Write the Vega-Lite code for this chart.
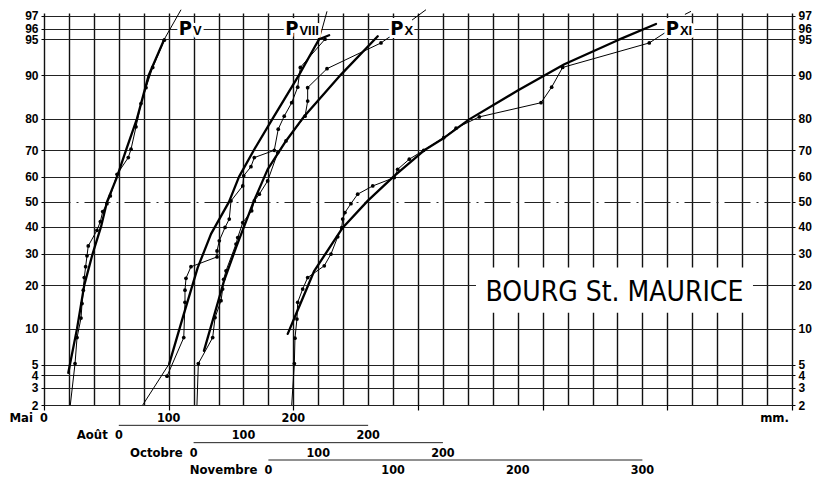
{
  "$schema": "https://vega.github.io/schema/vega-lite/v6.json",
  "background": "white",
  "padding": {"left": 9, "right": 5, "top": 7, "bottom": 1},
  "bounds": "flush",
  "spacing": 3,
  "config": {
    "view": {"stroke": null},
    "font": "DejaVu Sans Condensed, sans-serif",
    "axis": {"domain": false, "labelColor": "black", "labelFont": "Liberation Sans, Arial, sans-serif", "labelFontWeight": "bold", "labelFontSize": 12}
  },
  "datasets": {
    "scales": [
      {"month": "Mai", "offset": 0, "max": 200},
      {"month": "Août", "offset": 60, "max": 200},
      {"month": "Octobre", "offset": 120, "max": 200},
      {"month": "Novembre", "offset": 180, "max": 300}
    ],
    "scaleTicks": [
      {"month": "Mai", "value": 0}, {"month": "Mai", "value": 100}, {"month": "Mai", "value": 200},
      {"month": "Août", "value": 0}, {"month": "Août", "value": 100}, {"month": "Août", "value": 200},
      {"month": "Octobre", "value": 0}, {"month": "Octobre", "value": 100}, {"month": "Octobre", "value": 200},
      {"month": "Novembre", "value": 0}, {"month": "Novembre", "value": 100}, {"month": "Novembre", "value": 200}, {"month": "Novembre", "value": 300}
    ],
    "units": [{"month": "Mai", "value": 600, "text": "mm."}],
    "station": [{"text": "BOURG St. MAURICE", "month": "Mai", "mm": 457.6, "pct": 18.6}],
    "labels": [
      {"month": "Mai", "mm": 118.7, "pct": 96, "num": "V"},
      {"month": "Août", "mm": 144.1, "pct": 96, "num": "VIII"},
      {"month": "Octobre", "mm": 168.4, "pct": 96, "num": "X"},
      {"month": "Novembre", "mm": 329.3, "pct": 96, "num": "XI"}
    ],
    "points": [
      {"kind": "fit", "line": "V", "month": "Mai", "mm": 19.5, "pct": 4.2},
      {"kind": "fit", "line": "V", "month": "Mai", "mm": 26.5, "pct": 10},
      {"kind": "fit", "line": "V", "month": "Mai", "mm": 32.3, "pct": 20},
      {"kind": "fit", "line": "V", "month": "Mai", "mm": 39, "pct": 30},
      {"kind": "fit", "line": "V", "month": "Mai", "mm": 45.7, "pct": 40},
      {"kind": "fit", "line": "V", "month": "Mai", "mm": 50.5, "pct": 50},
      {"kind": "fit", "line": "V", "month": "Mai", "mm": 58.6, "pct": 60},
      {"kind": "fit", "line": "V", "month": "Mai", "mm": 65.8, "pct": 70},
      {"kind": "fit", "line": "V", "month": "Mai", "mm": 74.6, "pct": 80},
      {"kind": "fit", "line": "V", "month": "Mai", "mm": 84, "pct": 90},
      {"kind": "fit", "line": "V", "month": "Mai", "mm": 96.5, "pct": 95},

      {"kind": "fit", "line": "VIII", "month": "Août", "mm": 40.5, "pct": 5.1},
      {"kind": "fit", "line": "VIII", "month": "Août", "mm": 51.3, "pct": 12.1},
      {"kind": "fit", "line": "VIII", "month": "Août", "mm": 63.3, "pct": 25.3},
      {"kind": "fit", "line": "VIII", "month": "Août", "mm": 74, "pct": 37.3},
      {"kind": "fit", "line": "VIII", "month": "Août", "mm": 88.4, "pct": 50},
      {"kind": "fit", "line": "VIII", "month": "Août", "mm": 96.4, "pct": 60},
      {"kind": "fit", "line": "VIII", "month": "Août", "mm": 108.4, "pct": 70},
      {"kind": "fit", "line": "VIII", "month": "Août", "mm": 123.4, "pct": 80},
      {"kind": "fit", "line": "VIII", "month": "Août", "mm": 144.5, "pct": 90},
      {"kind": "fit", "line": "VIII", "month": "Août", "mm": 160.6, "pct": 95},
      {"kind": "fit", "line": "VIII", "month": "Août", "mm": 168.7, "pct": 95.4},

      {"kind": "fit", "line": "X", "month": "Octobre", "mm": 8.3, "pct": 6.6},
      {"kind": "fit", "line": "X", "month": "Octobre", "mm": 24.4, "pct": 21.2},
      {"kind": "fit", "line": "X", "month": "Octobre", "mm": 34, "pct": 32.2},
      {"kind": "fit", "line": "X", "month": "Octobre", "mm": 48.4, "pct": 50.4},
      {"kind": "fit", "line": "X", "month": "Octobre", "mm": 59.4, "pct": 62.9},
      {"kind": "fit", "line": "X", "month": "Octobre", "mm": 74.1, "pct": 73.1},
      {"kind": "fit", "line": "X", "month": "Octobre", "mm": 88.8, "pct": 80.7},
      {"kind": "fit", "line": "X", "month": "Octobre", "mm": 118.2, "pct": 90.1},
      {"kind": "fit", "line": "X", "month": "Octobre", "mm": 147.7, "pct": 95.3},

      {"kind": "fit", "line": "XI", "month": "Novembre", "mm": 15.5, "pct": 9.1},
      {"kind": "fit", "line": "XI", "month": "Novembre", "mm": 22.1, "pct": 12.8},
      {"kind": "fit", "line": "XI", "month": "Novembre", "mm": 36.8, "pct": 24.3},
      {"kind": "fit", "line": "XI", "month": "Novembre", "mm": 59.6, "pct": 39.7},
      {"kind": "fit", "line": "XI", "month": "Novembre", "mm": 79.6, "pct": 50.4},
      {"kind": "fit", "line": "XI", "month": "Novembre", "mm": 101, "pct": 60.4},
      {"kind": "fit", "line": "XI", "month": "Novembre", "mm": 125, "pct": 69.9},
      {"kind": "fit", "line": "XI", "month": "Novembre", "mm": 141.1, "pct": 74.2},
      {"kind": "fit", "line": "XI", "month": "Novembre", "mm": 161.1, "pct": 79.8},
      {"kind": "fit", "line": "XI", "month": "Novembre", "mm": 200, "pct": 87},
      {"kind": "fit", "line": "XI", "month": "Novembre", "mm": 237.4, "pct": 91.8},
      {"kind": "fit", "line": "XI", "month": "Novembre", "mm": 280.2, "pct": 94.9},
      {"kind": "fit", "line": "XI", "month": "Novembre", "mm": 310.9, "pct": 96.4},

      {"kind": "obs", "line": "V", "month": "Mai", "mm": 21.1, "pct": 2},
      {"kind": "obs", "line": "V", "month": "Mai", "mm": 24.9, "pct": 5.1},
      {"kind": "obs", "line": "V", "month": "Mai", "mm": 26.5, "pct": 8.5},
      {"kind": "obs", "line": "V", "month": "Mai", "mm": 29.7, "pct": 12},
      {"kind": "obs", "line": "V", "month": "Mai", "mm": 30.5, "pct": 15.2},
      {"kind": "obs", "line": "V", "month": "Mai", "mm": 31.5, "pct": 18.6},
      {"kind": "obs", "line": "V", "month": "Mai", "mm": 32.3, "pct": 22.2},
      {"kind": "obs", "line": "V", "month": "Mai", "mm": 33.4, "pct": 25.6},
      {"kind": "obs", "line": "V", "month": "Mai", "mm": 34.5, "pct": 29.3},
      {"kind": "obs", "line": "V", "month": "Mai", "mm": 35.5, "pct": 32.8},
      {"kind": "obs", "line": "V", "month": "Mai", "mm": 42.5, "pct": 38.7},
      {"kind": "obs", "line": "V", "month": "Mai", "mm": 45.2, "pct": 42.1},
      {"kind": "obs", "line": "V", "month": "Mai", "mm": 47.1, "pct": 46.1},
      {"kind": "obs", "line": "V", "month": "Mai", "mm": 50.5, "pct": 49.3},
      {"kind": "obs", "line": "V", "month": "Mai", "mm": 53.2, "pct": 52.4},
      {"kind": "obs", "line": "V", "month": "Mai", "mm": 58.6, "pct": 61},
      {"kind": "obs", "line": "V", "month": "Mai", "mm": 67.6, "pct": 67.3},
      {"kind": "obs", "line": "V", "month": "Mai", "mm": 69.8, "pct": 70.3},
      {"kind": "obs", "line": "V", "month": "Mai", "mm": 73.8, "pct": 77.6},
      {"kind": "obs", "line": "V", "month": "Mai", "mm": 77.8, "pct": 84},
      {"kind": "obs", "line": "V", "month": "Mai", "mm": 81.8, "pct": 87.6},
      {"kind": "obs", "line": "V", "month": "Mai", "mm": 87.2, "pct": 91.3},
      {"kind": "obs", "line": "V", "month": "Mai", "mm": 96.5, "pct": 94.9},

      {"kind": "obs", "line": "VIII", "month": "Août", "mm": 38.7, "pct": 3.9},
      {"kind": "obs", "line": "VIII", "month": "Août", "mm": 52.1, "pct": 8.5},
      {"kind": "obs", "line": "VIII", "month": "Août", "mm": 53.1, "pct": 15.5},
      {"kind": "obs", "line": "VIII", "month": "Août", "mm": 53.1, "pct": 18.6},
      {"kind": "obs", "line": "VIII", "month": "Août", "mm": 53.9, "pct": 22},
      {"kind": "obs", "line": "VIII", "month": "Août", "mm": 57.9, "pct": 25.6},
      {"kind": "obs", "line": "VIII", "month": "Août", "mm": 78.8, "pct": 28.9},
      {"kind": "obs", "line": "VIII", "month": "Août", "mm": 78.8, "pct": 31},
      {"kind": "obs", "line": "VIII", "month": "Août", "mm": 80.6, "pct": 34.7},
      {"kind": "obs", "line": "VIII", "month": "Août", "mm": 85.2, "pct": 39.8},
      {"kind": "obs", "line": "VIII", "month": "Août", "mm": 88.6, "pct": 43.1},
      {"kind": "obs", "line": "VIII", "month": "Août", "mm": 90, "pct": 50.4},
      {"kind": "obs", "line": "VIII", "month": "Août", "mm": 99.4, "pct": 56.4},
      {"kind": "obs", "line": "VIII", "month": "Août", "mm": 100.2, "pct": 60.4},
      {"kind": "obs", "line": "VIII", "month": "Août", "mm": 106, "pct": 63.9},
      {"kind": "obs", "line": "VIII", "month": "Août", "mm": 108.7, "pct": 67.3},
      {"kind": "obs", "line": "VIII", "month": "Août", "mm": 124.7, "pct": 69.9},
      {"kind": "obs", "line": "VIII", "month": "Août", "mm": 127.9, "pct": 76.9},
      {"kind": "obs", "line": "VIII", "month": "Août", "mm": 132.7, "pct": 80.7},
      {"kind": "obs", "line": "VIII", "month": "Août", "mm": 138.7, "pct": 84.2},
      {"kind": "obs", "line": "VIII", "month": "Août", "mm": 143.5, "pct": 87.7},
      {"kind": "obs", "line": "VIII", "month": "Août", "mm": 145.6, "pct": 91.3},
      {"kind": "obs", "line": "VIII", "month": "Août", "mm": 165.4, "pct": 95},

      {"kind": "obs", "line": "X", "month": "Octobre", "mm": 2.7, "pct": 2},
      {"kind": "obs", "line": "X", "month": "Octobre", "mm": 3.8, "pct": 5.1},
      {"kind": "obs", "line": "X", "month": "Octobre", "mm": 15.3, "pct": 8.5},
      {"kind": "obs", "line": "X", "month": "Octobre", "mm": 17.2, "pct": 12.1},
      {"kind": "obs", "line": "X", "month": "Octobre", "mm": 22, "pct": 15.9},
      {"kind": "obs", "line": "X", "month": "Octobre", "mm": 23.3, "pct": 18.9},
      {"kind": "obs", "line": "X", "month": "Octobre", "mm": 24.1, "pct": 21.7},
      {"kind": "obs", "line": "X", "month": "Octobre", "mm": 26, "pct": 24.3},
      {"kind": "obs", "line": "X", "month": "Octobre", "mm": 34, "pct": 33.5},
      {"kind": "obs", "line": "X", "month": "Octobre", "mm": 35.4, "pct": 35.9},
      {"kind": "obs", "line": "X", "month": "Octobre", "mm": 39.4, "pct": 41.7},
      {"kind": "obs", "line": "X", "month": "Octobre", "mm": 46.6, "pct": 46.4},
      {"kind": "obs", "line": "X", "month": "Octobre", "mm": 48.7, "pct": 50.4},
      {"kind": "obs", "line": "X", "month": "Octobre", "mm": 52.7, "pct": 53.1},
      {"kind": "obs", "line": "X", "month": "Octobre", "mm": 59.4, "pct": 58.4},
      {"kind": "obs", "line": "X", "month": "Octobre", "mm": 67.5, "pct": 69.1},
      {"kind": "obs", "line": "X", "month": "Octobre", "mm": 74.1, "pct": 73.1},
      {"kind": "obs", "line": "X", "month": "Octobre", "mm": 89.4, "pct": 80.7},
      {"kind": "obs", "line": "X", "month": "Octobre", "mm": 91.5, "pct": 84.6},
      {"kind": "obs", "line": "X", "month": "Octobre", "mm": 91.5, "pct": 87.6},
      {"kind": "obs", "line": "X", "month": "Octobre", "mm": 107, "pct": 91.1},
      {"kind": "obs", "line": "X", "month": "Octobre", "mm": 150.3, "pct": 94.6},

      {"kind": "obs", "line": "XI", "month": "Novembre", "mm": 18.7, "pct": 2},
      {"kind": "obs", "line": "XI", "month": "Novembre", "mm": 20.8, "pct": 5.1},
      {"kind": "obs", "line": "XI", "month": "Novembre", "mm": 21.3, "pct": 8.4},
      {"kind": "obs", "line": "XI", "month": "Novembre", "mm": 22.9, "pct": 11.8},
      {"kind": "obs", "line": "XI", "month": "Novembre", "mm": 23.5, "pct": 15.5},
      {"kind": "obs", "line": "XI", "month": "Novembre", "mm": 27.5, "pct": 18.9},
      {"kind": "obs", "line": "XI", "month": "Novembre", "mm": 31.5, "pct": 22.2},
      {"kind": "obs", "line": "XI", "month": "Novembre", "mm": 44.8, "pct": 25.9},
      {"kind": "obs", "line": "XI", "month": "Novembre", "mm": 50.2, "pct": 29.9},
      {"kind": "obs", "line": "XI", "month": "Novembre", "mm": 55.6, "pct": 36.2},
      {"kind": "obs", "line": "XI", "month": "Novembre", "mm": 58.8, "pct": 39.7},
      {"kind": "obs", "line": "XI", "month": "Novembre", "mm": 59.6, "pct": 43.1},
      {"kind": "obs", "line": "XI", "month": "Novembre", "mm": 61.4, "pct": 45.7},
      {"kind": "obs", "line": "XI", "month": "Novembre", "mm": 66.2, "pct": 49.3},
      {"kind": "obs", "line": "XI", "month": "Novembre", "mm": 71.6, "pct": 53.1},
      {"kind": "obs", "line": "XI", "month": "Novembre", "mm": 83.7, "pct": 56.4},
      {"kind": "obs", "line": "XI", "month": "Novembre", "mm": 101, "pct": 59.7},
      {"kind": "obs", "line": "XI", "month": "Novembre", "mm": 103.7, "pct": 62.9},
      {"kind": "obs", "line": "XI", "month": "Novembre", "mm": 113, "pct": 66.7},
      {"kind": "obs", "line": "XI", "month": "Novembre", "mm": 124.6, "pct": 69.9},
      {"kind": "obs", "line": "XI", "month": "Novembre", "mm": 140.6, "pct": 74.2},
      {"kind": "obs", "line": "XI", "month": "Novembre", "mm": 150.5, "pct": 77.2},
      {"kind": "obs", "line": "XI", "month": "Novembre", "mm": 169.2, "pct": 80.5},
      {"kind": "obs", "line": "XI", "month": "Novembre", "mm": 218.7, "pct": 84.2},
      {"kind": "obs", "line": "XI", "month": "Novembre", "mm": 227.2, "pct": 87.7},
      {"kind": "obs", "line": "XI", "month": "Novembre", "mm": 236, "pct": 91.3},
      {"kind": "obs", "line": "XI", "month": "Novembre", "mm": 305.5, "pct": 94.6},

      {"kind": "ext", "line": "V-top", "month": "Mai", "mm": 96.5, "pct": 95},
      {"kind": "ext", "line": "V-top", "month": "Mai", "mm": 109.9, "pct": 97.4},
      {"kind": "ext", "line": "VIII-low", "month": "Août", "mm": 19.2, "pct": 2},
      {"kind": "ext", "line": "VIII-low", "month": "Août", "mm": 40.5, "pct": 5.1},
      {"kind": "ext", "line": "VIII-top", "month": "Août", "mm": 159.8, "pct": 94.5},
      {"kind": "ext", "line": "VIII-top", "month": "Août", "mm": 167, "pct": 97.3},
      {"kind": "ext", "line": "X-top", "month": "Octobre", "mm": 175.2, "pct": 96.7},
      {"kind": "ext", "line": "X-top", "month": "Octobre", "mm": 186.4, "pct": 97.4},
      {"kind": "ext", "line": "X-lead", "month": "Octobre", "mm": 150.3, "pct": 94.6},
      {"kind": "ext", "line": "X-lead", "month": "Octobre", "mm": 159.1, "pct": 95.4},
      {"kind": "ext", "line": "XI-top", "month": "Novembre", "mm": 334.1, "pct": 97.1},
      {"kind": "ext", "line": "XI-top", "month": "Novembre", "mm": 339, "pct": 97.3},
      {"kind": "ext", "line": "XI-lead", "month": "Novembre", "mm": 305.5, "pct": 94.6},
      {"kind": "ext", "line": "XI-lead", "month": "Novembre", "mm": 318.9, "pct": 95.7}
    ]
  },
  "vconcat": [
    {
      "width": 748,
      "height": 392,
      "resolve": {"axis": {"y": "independent"}},
      "encoding": {
        "x": {"field": "pos", "type": "quantitative", "scale": {"domain": [0, 600], "nice": false, "zero": false},
          "axis": {"values": [0,20,40,60,80,100,120,140,160,180,200,220,240,260,280,300,320,340,360,380,400,420,440,460,480,500,520,540,560,580,600],
            "grid": true, "gridColor": "#111", "gridWidth": 1.4, "labels": false, "title": null,
            "ticks": true, "tickSize": 5, "tickColor": "black", "tickWidth": 1.2,
            "tickOpacity": {"condition": {"test": "datum.value % 100 === 0", "value": 1}, "value": 0}}},
        "y": {"field": "z", "type": "quantitative", "scale": {"domain": [-2.0537, 1.91], "nice": false, "zero": false}, "axis": null}
      },
      "layer": [
        {
          "data": {"name": "points"},
          "transform": [
            {"filter": "datum.kind === 'fit'"},
            {"lookup": "month", "from": {"data": {"name": "scales"}, "key": "month", "fields": ["offset"]}},
            {"calculate": "datum.mm + datum.offset", "as": "pos"},
            {"calculate": "quantileNormal(datum.pct / 100)", "as": "z"}
          ],
          "mark": {"type": "line", "color": "black", "strokeWidth": 2.3, "strokeCap": "round", "strokeJoin": "round"},
          "encoding": {
            "y": {"field": "z", "type": "quantitative", "scale": {"domain": [-2.0537, 1.91], "nice": false, "zero": false},
              "axis": {"orient": "left", "values": [-2.0537,-1.8808,-1.7507,-1.6449,-1.2816,-0.8416,-0.5244,-0.2533,0,0.2533,0.5244,0.8416,1.2816,1.6449,1.7507,1.8808],
                "grid": true, "gridColor": "#222", "gridWidth": 1,
                "gridDash": {"condition": {"test": "abs(datum.value) < 0.001", "value": [26, 6, 2, 6]}, "value": []},
                "tickSize": 3, "tickColor": "black", "labelPadding": 3,
                "labelExpr": "format(round(cumulativeNormal(datum.value) * 100), 'd')",
                "labelOverlap": false, "labelBound": false, "labelFlush": false, "title": null}},
            "detail": {"field": "line"},
            "order": {"field": "pct", "type": "quantitative"}
          }
        },
        {
          "data": {"name": "points"},
          "transform": [
            {"filter": "datum.kind === 'obs'"},
            {"lookup": "month", "from": {"data": {"name": "scales"}, "key": "month", "fields": ["offset"]}},
            {"calculate": "datum.mm + datum.offset", "as": "pos"},
            {"calculate": "quantileNormal(datum.pct / 100)", "as": "z"}
          ],
          "mark": {"type": "line", "color": "black", "strokeWidth": 1},
          "encoding": {
            "y": {"field": "z", "type": "quantitative", "scale": {"domain": [-2.0537, 1.91], "nice": false, "zero": false},
              "axis": {"orient": "right", "values": [-2.0537,-1.8808,-1.7507,-1.6449,-1.2816,-0.8416,-0.5244,-0.2533,0,0.2533,0.5244,0.8416,1.2816,1.6449,1.7507,1.8808],
                "grid": false, "tickSize": 3, "tickColor": "black", "labelPadding": 3,
                "labelExpr": "format(round(cumulativeNormal(datum.value) * 100), 'd')",
                "labelOverlap": false, "labelBound": false, "labelFlush": false, "title": null}},
            "detail": {"field": "line"},
            "order": {"field": "pct", "type": "quantitative"}
          }
        },
        {
          "data": {"name": "points"},
          "transform": [
            {"filter": "datum.kind === 'obs' && datum.pct > 2.5"},
            {"lookup": "month", "from": {"data": {"name": "scales"}, "key": "month", "fields": ["offset"]}},
            {"calculate": "datum.mm + datum.offset", "as": "pos"},
            {"calculate": "quantileNormal(datum.pct / 100)", "as": "z"}
          ],
          "mark": {"type": "point", "filled": true, "color": "black", "size": 14, "opacity": 1}
        },
        {
          "data": {"name": "points"},
          "transform": [
            {"filter": "datum.kind === 'ext'"},
            {"lookup": "month", "from": {"data": {"name": "scales"}, "key": "month", "fields": ["offset"]}},
            {"calculate": "datum.mm + datum.offset", "as": "pos"},
            {"calculate": "quantileNormal(datum.pct / 100)", "as": "z"}
          ],
          "mark": {"type": "line", "color": "black", "strokeWidth": 1},
          "encoding": {
            "detail": {"field": "line"},
            "order": {"field": "pct", "type": "quantitative"}
          }
        },
        {
          "data": {"name": "station"},
          "transform": [
            {"lookup": "month", "from": {"data": {"name": "scales"}, "key": "month", "fields": ["offset"]}},
            {"calculate": "datum.mm + datum.offset", "as": "pos"},
            {"calculate": "quantileNormal(datum.pct / 100)", "as": "z"}
          ],
          "mark": {"type": "point", "shape": "M-1,-0.163H1V0.163H-1Z", "size": 76729, "filled": true, "fill": "white", "strokeWidth": 0, "opacity": 1}
        },
        {
          "data": {"name": "station"},
          "transform": [
            {"lookup": "month", "from": {"data": {"name": "scales"}, "key": "month", "fields": ["offset"]}},
            {"calculate": "datum.mm + datum.offset", "as": "pos"},
            {"calculate": "quantileNormal(datum.pct / 100)", "as": "z"}
          ],
          "mark": {"type": "text", "font": "DejaVu Sans Condensed, sans-serif", "fontSize": 28, "color": "black", "align": "center", "baseline": "alphabetic", "dy": 10.5},
          "encoding": {
            "text": {"field": "text"}
          }
        },
        {
          "data": {"name": "labels"},
          "transform": [
            {"lookup": "month", "from": {"data": {"name": "scales"}, "key": "month", "fields": ["offset"]}},
            {"calculate": "datum.mm + datum.offset", "as": "pos"},
            {"calculate": "quantileNormal(datum.pct / 100)", "as": "z"}
          ],
          "mark": {"type": "text", "text": "P", "font": "DejaVu Sans Condensed, sans-serif", "fontWeight": "bold", "fontSize": 20, "fill": "white", "stroke": "white", "strokeWidth": 6, "strokeJoin": "round", "align": "right", "baseline": "alphabetic", "dy": 6}
        },
        {
          "data": {"name": "labels"},
          "transform": [
            {"lookup": "month", "from": {"data": {"name": "scales"}, "key": "month", "fields": ["offset"]}},
            {"calculate": "datum.mm + datum.offset", "as": "pos"},
            {"calculate": "quantileNormal(datum.pct / 100)", "as": "z"}
          ],
          "mark": {"type": "text", "font": "Liberation Sans, Arial, sans-serif", "fontWeight": "bold", "fontSize": 13, "fill": "white", "stroke": "white", "strokeWidth": 6, "strokeJoin": "round", "align": "left", "baseline": "alphabetic", "dx": 1, "dy": 6},
          "encoding": {
            "text": {"field": "num"}
          }
        },
        {
          "data": {"name": "labels"},
          "transform": [
            {"lookup": "month", "from": {"data": {"name": "scales"}, "key": "month", "fields": ["offset"]}},
            {"calculate": "datum.mm + datum.offset", "as": "pos"},
            {"calculate": "quantileNormal(datum.pct / 100)", "as": "z"}
          ],
          "mark": {"type": "text", "text": "P", "font": "DejaVu Sans Condensed, sans-serif", "fontWeight": "bold", "fontSize": 20, "color": "black", "align": "right", "baseline": "alphabetic", "dy": 6}
        },
        {
          "data": {"name": "labels"},
          "transform": [
            {"lookup": "month", "from": {"data": {"name": "scales"}, "key": "month", "fields": ["offset"]}},
            {"calculate": "datum.mm + datum.offset", "as": "pos"},
            {"calculate": "quantileNormal(datum.pct / 100)", "as": "z"}
          ],
          "mark": {"type": "text", "font": "Liberation Sans, Arial, sans-serif", "fontWeight": "bold", "fontSize": 13, "color": "black", "align": "left", "baseline": "alphabetic", "dx": 1, "dy": 6},
          "encoding": {
            "text": {"field": "num"}
          }
        }
      ]
    },
    {
      "width": 748,
      "height": 52,
      "layer": [
        {
          "data": {"name": "scales"},
          "transform": [
            {"filter": "datum.month !== 'Mai'"},
            {"calculate": "datum.offset + datum.max", "as": "end"}
          ],
          "mark": {"type": "rule", "color": "#222", "strokeWidth": 1},
          "encoding": {
            "x": {"field": "offset", "type": "quantitative", "scale": {"domain": [0, 600], "nice": false, "zero": false}, "axis": null},
            "x2": {"field": "end"},
            "y": {"field": "month", "type": "nominal", "scale": {"type": "point", "domain": ["Mai", "Août", "Octobre", "Novembre"], "padding": 0}, "axis": null}
          }
        },
        {
          "data": {"name": "scaleTicks"},
          "transform": [
            {"lookup": "month", "from": {"data": {"name": "scales"}, "key": "month", "fields": ["offset"]}},
            {"calculate": "datum.value + datum.offset", "as": "pos"}
          ],
          "mark": {"type": "text", "font": "DejaVu Sans Condensed, sans-serif", "fontWeight": "bold", "fontSize": 12.5, "color": "black", "align": "center", "baseline": "middle", "dy": 10},
          "encoding": {
            "x": {"field": "pos", "type": "quantitative", "axis": null},
            "y": {"field": "month", "type": "nominal", "axis": null},
            "text": {"field": "value", "type": "quantitative"}
          }
        },
        {
          "data": {"name": "scales"},
          "mark": {"type": "text", "font": "DejaVu Sans Condensed, sans-serif", "fontWeight": "bold", "fontSize": 13, "color": "black", "align": "right", "baseline": "middle", "dx": -11, "dy": 10},
          "encoding": {
            "x": {"field": "offset", "type": "quantitative", "axis": null},
            "y": {"field": "month", "type": "nominal", "axis": null},
            "text": {"field": "month"}
          }
        },
        {
          "data": {"name": "units"},
          "mark": {"type": "text", "font": "DejaVu Sans Condensed, sans-serif", "fontWeight": "bold", "fontSize": 13, "color": "black", "align": "right", "baseline": "middle", "dx": -3, "dy": 10},
          "encoding": {
            "x": {"field": "value", "type": "quantitative", "axis": null},
            "y": {"field": "month", "type": "nominal", "axis": null},
            "text": {"field": "text"}
          }
        }
      ]
    }
  ]
}
